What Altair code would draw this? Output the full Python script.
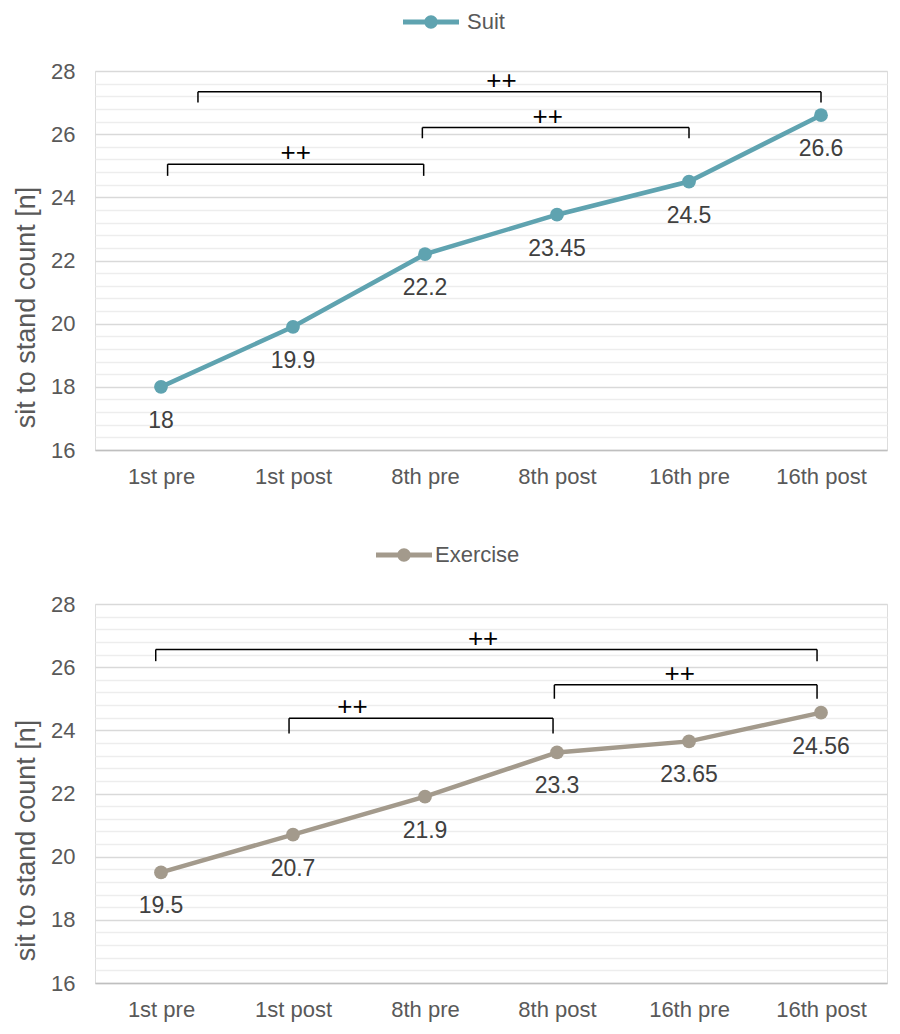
import altair as alt
import pandas as pd

categories = ["1st pre", "1st post", "8th pre", "8th post", "16th pre", "16th post"]
suit_values = [18, 19.9, 22.2, 23.45, 24.5, 26.6]
exercise_values = [19.5, 20.7, 21.9, 23.3, 23.65, 24.56]
suit_labels = ["18", "19.9", "22.2", "23.45", "24.5", "26.6"]
exercise_labels = ["19.5", "20.7", "21.9", "23.3", "23.65", "24.56"]

# significance brackets (x in category-index units, y in data units)
suit_br_x1 = [0.28, 1.98, 0.05]
suit_br_x2 = [5.0, 4.0, 1.99]
suit_br_top = [27.34, 26.21, 25.05]
suit_br_bot = [27.0, 25.87, 24.68]
suit_br_lx = [2.58, 2.93, 1.02]
suit_br_ly = [27.69, 26.55, 25.4]

ex_br_x1 = [-0.04, 2.98, 0.97]
ex_br_x2 = [4.97, 4.97, 2.97]
ex_br_top = [26.56, 25.44, 24.38]
ex_br_bot = [26.19, 25.0, 23.9]
ex_br_lx = [2.44, 3.93, 1.45]
ex_br_ly = [26.9, 25.78, 24.75]
br_text = ["++", "++", "++"]

SUIT_COLOR = "#5fa3b0"
EX_COLOR = "#a39a8c"
BORDER = "#6aa5b0"
FONT = "Liberation Sans"

grid_values = [round(16 + 0.4 * i, 1) for i in range(31)]
label_expr = "[" + ",".join("'%s'" % c for c in categories) + "][datum.value]"

legend_path = ("M-2,-0.18H2V0.18H-2Z "
               "M0.48,0A0.48,0.48 0 1,1 -0.48,0A0.48,0.48 0 1,1 0.48,0Z")

W, H = 792, 379


def panel(name, values, labels, color, bx1, bx2, btop, bbot, blx, bly, lx, ly, loff):
    df = pd.DataFrame({
        "idx": list(range(len(categories))),
        "value": values,
        "label": labels,
        "series": [name] * len(values),
    })
    br = pd.DataFrame({"x1": bx1, "x2": bx2, "top": btop, "bot": bbot,
                       "lx": blx, "ly": bly, "t": br_text})

    xscale = alt.Scale(domain=[-0.5, 5.5], nice=False, zero=False)
    yscale = alt.Scale(domain=[16, 28], nice=False, zero=False)

    xaxis = alt.Axis(values=list(range(len(categories))), labelExpr=label_expr,
                     title=None, grid=False, ticks=False, domainColor="#bfbfbf",
                     domainWidth=1.5, labelFontSize=22, labelColor="#595959",
                     labelFont=FONT, labelPadding=16, zindex=1, labelOverlap=False)
    yaxis = alt.Axis(values=grid_values, tickCount=len(grid_values),
                     labelExpr="abs(datum.value % 2) < 0.01 ? format(datum.value, 'd') : ''",
                     labelOverlap=False, labelFlush=False,
                     title="sit to stand count [n]", titleFontSize=27,
                     titleFont=FONT, titleColor="#595959", titleFontWeight="normal",
                     titlePadding=10, titleY=236,
                     labelFontSize=22, labelColor="#595959",
                     labelFont=FONT, labelPadding=20, ticks=False, domain=False,
                     gridColor={"condition": {"test": "abs(datum.value % 2) < 0.01",
                                              "value": "#d9d9d9"},
                                "value": "#ededed"},
                     gridWidth=1.5)

    base = alt.Chart(df)
    line = base.mark_line(color=color, strokeWidth=4.5).encode(
        x=alt.X("idx:Q", scale=xscale, axis=xaxis),
        y=alt.Y("value:Q", scale=yscale, axis=yaxis),
    )
    pts = base.mark_circle(size=190, opacity=1).encode(
        x=alt.X("idx:Q", scale=xscale),
        y=alt.Y("value:Q", scale=yscale),
        color=alt.Color("series:N",
                        scale=alt.Scale(domain=[name], range=[color]),
                        legend=alt.Legend(title=None, orient="none",
                                          legendX=lx, legendY=ly,
                                          symbolType=legend_path, symbolSize=784,
                                          symbolStrokeWidth=0, symbolOpacity=1,
                                          labelFontSize=22, labelColor="#595959",
                                          labelFont=FONT, labelOffset=loff,
                                          padding=0)),
    )
    txt = base.mark_text(dy=34, fontSize=23, color="#404040", font=FONT).encode(
        x=alt.X("idx:Q", scale=xscale),
        y=alt.Y("value:Q", scale=yscale),
        text="label:N",
    )
    bb = alt.Chart(br)
    hline = bb.mark_rule(color="black", strokeWidth=1.5).encode(
        x=alt.X("x1:Q", scale=xscale), x2="x2:Q", y=alt.Y("top:Q", scale=yscale))
    lt = bb.mark_rule(color="black", strokeWidth=1.5).encode(
        x=alt.X("x1:Q", scale=xscale), y=alt.Y("top:Q", scale=yscale), y2="bot:Q")
    rt = bb.mark_rule(color="black", strokeWidth=1.5).encode(
        x=alt.X("x2:Q", scale=xscale), y=alt.Y("top:Q", scale=yscale), y2="bot:Q")
    bt = bb.mark_text(fontSize=26, color="black", font=FONT).encode(
        x=alt.X("lx:Q", scale=xscale), y=alt.Y("ly:Q", scale=yscale), text="t:N")

    return alt.layer(line, pts, txt, hline, lt, rt, bt).properties(width=W, height=H)


top = panel("Suit", suit_values, suit_labels, SUIT_COLOR,
            suit_br_x1, suit_br_x2, suit_br_top, suit_br_bot, suit_br_lx, suit_br_ly,
            322, -63, 22)
bottom = panel("Exercise", exercise_values, exercise_labels, EX_COLOR,
               ex_br_x1, ex_br_x2, ex_br_top, ex_br_bot, ex_br_lx, ex_br_ly,
               295, -63, 17)

chart = alt.vconcat(top, bottom, spacing=52).resolve_scale(color="independent").properties(
    padding={"top": -1, "left": 4, "right": 0, "bottom": 1}
).configure_view(stroke=BORDER, strokeWidth=1.5).configure(background="white")

chart.save("out.html", embed_options={"renderer": "svg", "actions": False})
